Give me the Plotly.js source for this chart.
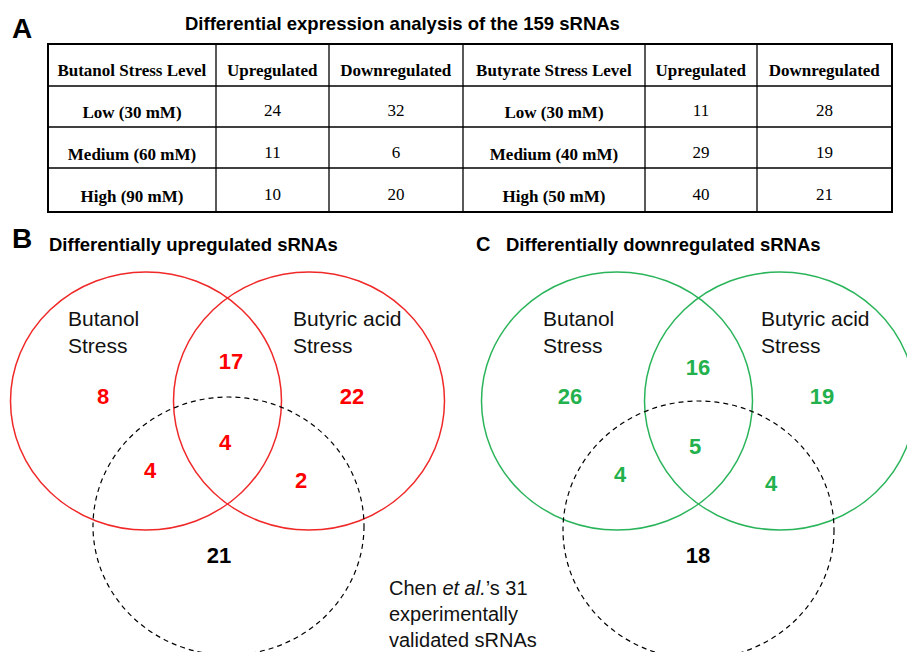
<!DOCTYPE html>
<html>
<head>
<meta charset="utf-8">
<script src="https://cdn.plot.ly/plotly-3.0.1.min.js"></script>
<style>html,body{margin:0;padding:0;background:#fff;}#chart{width:907px;height:652px;}</style>
</head>
<body>
<div id="chart"></div>
<script>
// ---- DATA ----
const tableTitle = "Differential expression analysis of the 159 sRNAs";
const tableHeaders = ["Butanol Stress Level", "Upregulated", "Downregulated", "Butyrate Stress Level", "Upregulated", "Downregulated"];
const butanolLevels = ["Low (30 mM)", "Medium (60 mM)", "High (90 mM)"];
const butanolUp = [24, 11, 10];
const butanolDown = [32, 6, 20];
const butyrateLevels = ["Low (30 mM)", "Medium (40 mM)", "High (50 mM)"];
const butyrateUp = [11, 29, 40];
const butyrateDown = [28, 19, 21];

const vennRegions = ["butanolOnly", "butanolButyric", "butyricOnly", "allThree", "butanolChen", "butyricChen", "chenOnly"];
const upCounts = [8, 17, 22, 4, 4, 2, 21];
const downCounts = [26, 16, 19, 5, 4, 4, 18];
const setLabels = ["Butanol<br>Stress", "Butyric acid<br>Stress"];
const chenLabel = "Chen <i>et al.</i>\u2019s 31<br>experimentally<br>validated sRNAs";
const panelTitles = ["Differentially upregulated sRNAs", "Differentially downregulated sRNAs"];

// ---- LAYOUT GEOMETRY (pixel space) ----
const W = 907, H = 652;
const RX = 135.5, RY = 129;
const panels = [
  {color: "#ff0000", line: "#f02828", counts: upCounts,
   circ: [[146, 401], [309, 401], [228.5, 526]],
   pos: [[103, 398], [231, 363], [352, 398], [225, 444], [150, 472], [301, 482], [219, 557]],
   lab: [[66, 332], [291, 332]]},
  {color: "#22b14c", line: "#2ab45a", counts: downCounts,
   circ: [[617, 401], [780, 401], [698.5, 530]],
   pos: [[570, 398], [698, 369], [822, 398], [695, 448], [620, 476], [771, 485], [698, 557]],
   lab: [[541, 332], [759, 332]]}
];

const SANS = "Liberation Sans, Arial, sans-serif";
const SERIF = "Liberation Serif, Times New Roman, serif";

const traces = [];
const shapes = [];
const annotations = [];

const nb = s => "<b>" + String(s).replace(/ /g, "\u00a0") + "</b>";

// Table (grid drawn as shapes; text rows from the table trace)
const colsX = [48, 216, 329, 463, 645, 757, 892];
const rowsY = [44, 86, 127, 168, 212];
const widths = colsX.slice(1).map((v, i) => v - colsX[i]);
const textShift = 9;
traces.push({
  type: "table",
  domain: {x: [48 / W, 892 / W], y: [1 - (212 + textShift) / H, 1 - (44 + textShift) / H]},
  columnwidth: widths,
  header: {
    values: tableHeaders.map(nb),
    align: "center", height: 42,
    line: {color: "rgba(0,0,0,0)", width: 0},
    fill: {color: "rgba(0,0,0,0)"},
    font: {family: SERIF, size: 17, color: "#000"}
  },
  cells: {
    values: [butanolLevels.map(nb), butanolUp, butanolDown,
             butyrateLevels.map(nb), butyrateUp, butyrateDown],
    align: "center", height: 42,
    line: {color: "rgba(0,0,0,0)", width: 0},
    fill: {color: "rgba(0,0,0,0)"},
    font: {family: SERIF, size: 17, color: "#000"}
  }
});
colsX.slice(1, -1).forEach(x => shapes.push({type: "line", xref: "x", yref: "y",
  x0: x, x1: x, y0: 44, y1: 212, line: {color: "#000", width: 1.3}}));
rowsY.slice(1, -1).forEach(y => shapes.push({type: "line", xref: "x", yref: "y",
  x0: 48, x1: 892, y0: y, y1: y, line: {color: "#000", width: 1.3}}));
shapes.push({type: "rect", xref: "x", yref: "y", x0: 48, x1: 892, y0: 44, y1: 212,
  line: {color: "#000", width: 2}});

// Venn
panels.forEach((p) => {
  p.circ.forEach((c, ci) => {
    shapes.push({type: "circle", xref: "x", yref: "y",
      x0: c[0] - RX, x1: c[0] + RX, y0: c[1] - RY, y1: c[1] + RY,
      line: ci === 2 ? {color: "#000", width: 1.2, dash: "5px,4px"} : {color: p.line, width: 1.5}});
  });
  traces.push({
    type: "scatter", mode: "text", xaxis: "x", yaxis: "y",
    x: p.pos.map(q => q[0]), y: p.pos.map(q => q[1]),
    text: p.counts.map(String),
    textposition: "middle center",
    textfont: {family: SANS, size: 22, weight: "bold",
      color: p.counts.map((_, i) => i === 6 ? "#000" : p.color)},
    hoverinfo: "skip", showlegend: false
  });
  setLabels.forEach((t, li) => {
    annotations.push({xref: "x", yref: "y", x: p.lab[li][0], y: p.lab[li][1],
      xanchor: "left", yanchor: "middle", align: "left", showarrow: false,
      text: t, font: {family: SANS, size: 21, color: "#111"}});
  });
});

annotations.push({xref: "x", yref: "y", x: 387, y: 614, xanchor: "left", yanchor: "middle",
  align: "left", showarrow: false, text: chenLabel, font: {family: SANS, size: 20, color: "#111"}});

// Titles / panel letters
annotations.push({xref: "x", yref: "y", x: 402, y: 23, xanchor: "center", yanchor: "middle",
  showarrow: false, text: "<b>" + tableTitle + "</b>", font: {family: SANS, size: 18.5, color: "#000"}});
annotations.push({xref: "x", yref: "y", x: 10, y: 28, xanchor: "left", yanchor: "middle",
  showarrow: false, text: "<b>A</b>", font: {family: SANS, size: 28, color: "#000"}});
annotations.push({xref: "x", yref: "y", x: 10, y: 238, xanchor: "left", yanchor: "middle",
  showarrow: false, text: "<b>B</b>", font: {family: SANS, size: 28, color: "#000"}});
annotations.push({xref: "x", yref: "y", x: 474, y: 244, xanchor: "left", yanchor: "middle",
  showarrow: false, text: "<b>C</b>", font: {family: SANS, size: 20, color: "#000"}});
annotations.push({xref: "x", yref: "y", x: 47, y: 244, xanchor: "left", yanchor: "middle",
  showarrow: false, text: "<b>" + panelTitles[0] + "</b>", font: {family: SANS, size: 18.5, color: "#000"}});
annotations.push({xref: "x", yref: "y", x: 504, y: 244, xanchor: "left", yanchor: "middle",
  showarrow: false, text: "<b>" + panelTitles[1] + "</b>", font: {family: SANS, size: 18.5, color: "#000"}});

const layout = {
  width: W, height: H,
  margin: {l: 0, r: 0, t: 0, b: 0},
  paper_bgcolor: "#fff", plot_bgcolor: "#fff",
  showlegend: false,
  xaxis: {range: [0, W], visible: false, fixedrange: true, domain: [0, 1]},
  yaxis: {range: [H, 0], visible: false, fixedrange: true, domain: [0, 1]},
  shapes: shapes,
  annotations: annotations
};

Plotly.newPlot("chart", traces, layout, {staticPlot: true, displayModeBar: false});
</script>
</body>
</html>
